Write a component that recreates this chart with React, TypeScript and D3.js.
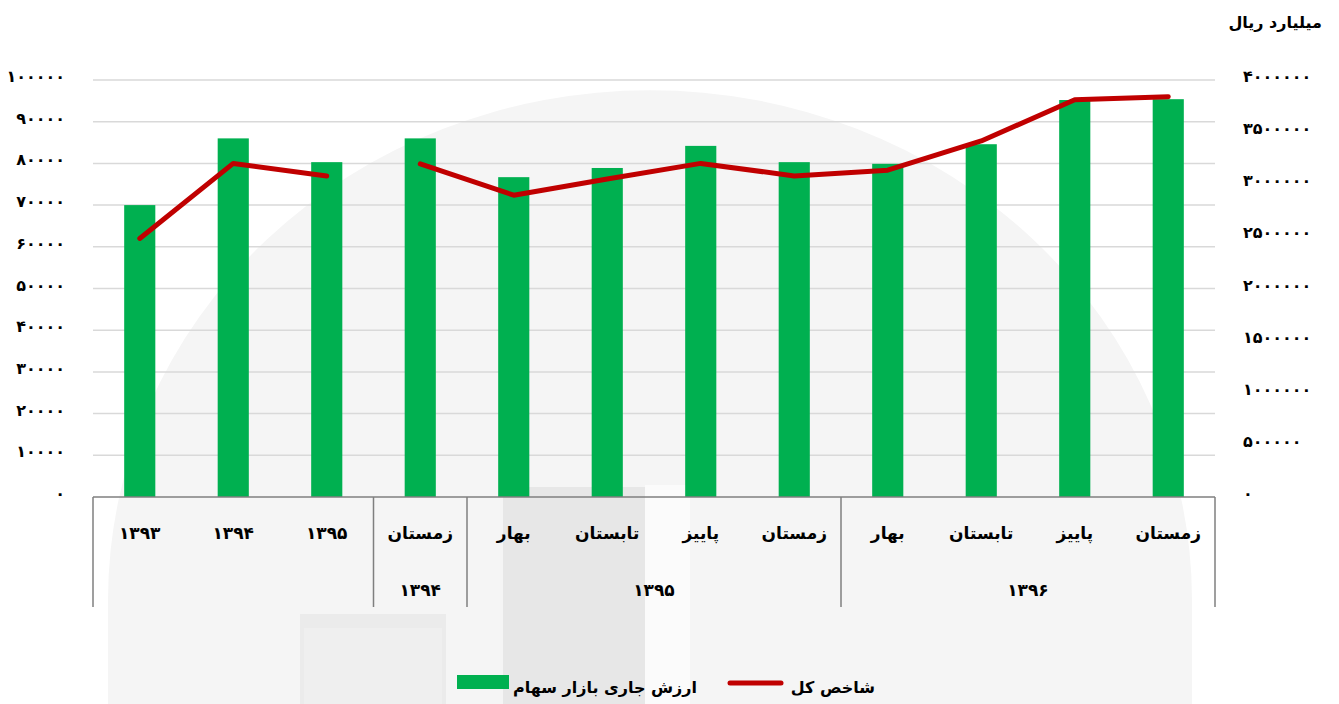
import React, { useEffect, useRef } from "react";
import * as d3 from "d3";

// categories (bottom level of the x axis)
const categories = [
  "۱۳۹۳", "۱۳۹۴", "۱۳۹۵",
  "زمستان",
  "بهار", "تابستان", "پاییز", "زمستان",
  "بهار", "تابستان", "پاییز", "زمستان",
];
// second level of the x axis: label + how many categories it covers
const groupLabels = ["", "۱۳۹۴", "۱۳۹۵", "۱۳۹۶"];
const groupSpans = [3, 1, 4, 4];
// annual points and quarterly points are drawn as separate line pieces
const periodType = ["y", "y", "y", "q", "q", "q", "q", "q", "q", "q", "q", "q"];

// ارزش جاری بازار سهام (left axis, bars)
const marketValue = [70000, 86000, 80300, 86000, 76700, 78900, 84200, 80300, 79900, 84600, 95200, 95400];
// شاخص کل (right axis, line)
const indexValue = [2480000, 3200000, 3080000, 3195000, 2895000, 3050000, 3200000, 3080000, 3135000, 3415000, 3810000, 3840000];

const leftTicks = [0, 10000, 20000, 30000, 40000, 50000, 60000, 70000, 80000, 90000, 100000];
const rightTicks = [0, 500000, 1000000, 1500000, 2000000, 2500000, 3000000, 3500000, 4000000];

const barLabel = "ارزش جاری بازار سهام";
const lineLabel = "شاخص کل";
const unitLabel = "میلیارد ریال";

const faDigits = "۰۱۲۳۴۵۶۷۸۹";
const toFa = (n: number) => String(n).replace(/\d/g, (c) => faDigits[+c]);

const W = 1339;
const H = 704;
const FONT = "'DejaVu Sans', sans-serif";

export default function App() {
  const ref = useRef<SVGSVGElement>(null);

  useEffect(() => {
    const svg = d3.select(ref.current);
    svg.selectAll("*").remove();

    const left = 93, right = 1215, top = 80, bottom = 497;

    // faint watermark in the background
    const wm = svg.append("g");
    wm.append("path")
      .attr("d", "M108,704 L108,600 A542,510 0 0 1 1192,600 L1192,704 Z")
      .attr("fill", "#f5f5f5");
    wm.append("rect").attr("x", 645).attr("y", 485).attr("width", 45).attr("height", 219).attr("fill", "#fbfbfb");
    wm.append("rect").attr("x", 503).attr("y", 487).attr("width", 142).attr("height", 217).attr("fill", "#e7e7e7");
    wm.append("rect").attr("x", 300).attr("y", 614).attr("width", 146).attr("height", 90).attr("fill", "#ebebeb");
    wm.append("rect").attr("x", 304).attr("y", 628).attr("width", 138).attr("height", 76).attr("fill", "#efefef");

    const x = d3
      .scaleBand<number>()
      .domain(d3.range(categories.length))
      .range([left, right])
      .paddingInner(0.667)
      .paddingOuter(0.3335);
    const yL = d3.scaleLinear().domain([0, 100000]).range([bottom, top]);
    const yR = d3.scaleLinear().domain([0, 4000000]).range([bottom, top]);
    const cx = (i: number) => (x(i) as number) + x.bandwidth() / 2;

    // gridlines
    svg.append("g")
      .selectAll("line")
      .data(leftTicks.slice(1))
      .join("line")
      .attr("x1", left)
      .attr("x2", right)
      .attr("y1", (d) => yL(d))
      .attr("y2", (d) => yL(d))
      .attr("stroke", "#d9d9d9")
      .attr("stroke-width", 1.5);

    // left axis labels
    svg.append("g")
      .selectAll("text")
      .data(leftTicks)
      .join("text")
      .attr("x", 65)
      .attr("y", (d) => yL(d) + 2)
      .attr("text-anchor", "end")
      .attr("font-family", FONT)
      .attr("font-weight", "bold")
      .attr("font-size", 16)
      .text((d) => toFa(d));

    // right axis labels
    svg.append("g")
      .selectAll("text")
      .data(rightTicks)
      .join("text")
      .attr("x", 1243)
      .attr("y", (d) => yR(d) + 2)
      .attr("text-anchor", "start")
      .attr("font-family", FONT)
      .attr("font-weight", "bold")
      .attr("font-size", 16)
      .text((d) => toFa(d));

    svg.append("text")
      .attr("x", 1322)
      .attr("y", 28)
      .attr("text-anchor", "end")
      .attr("font-family", FONT)
      .attr("font-weight", "bold")
      .attr("font-size", 16)
      .text(unitLabel);

    // bars
    svg.append("g")
      .attr("fill", "#00b050")
      .selectAll("rect")
      .data(marketValue)
      .join("rect")
      .attr("x", (d, i) => x(i) as number)
      .attr("y", (d) => yL(d))
      .attr("width", x.bandwidth())
      .attr("height", (d) => yL(0) - yL(d));

    // x axis + multi level category separators
    const ax = svg.append("g").attr("stroke", "#7f7f7f").attr("stroke-width", 1.5);
    ax.append("line").attr("x1", left).attr("x2", right).attr("y1", bottom).attr("y2", bottom);
    let acc = 0;
    const bounds = [0];
    groupSpans.forEach((s) => { acc += s; bounds.push(acc); });
    const step = x.step();
    bounds.forEach((b) => {
      ax.append("line")
        .attr("x1", left + b * step)
        .attr("x2", left + b * step)
        .attr("y1", bottom)
        .attr("y2", 607);
    });

    svg.append("g")
      .selectAll("text")
      .data(categories)
      .join("text")
      .attr("x", (d, i) => cx(i))
      .attr("y", 539)
      .attr("text-anchor", "middle")
      .attr("font-family", FONT)
      .attr("font-weight", "bold")
      .attr("font-size", 17)
      .text((d) => d);

    svg.append("g")
      .selectAll("text")
      .data(groupLabels)
      .join("text")
      .attr("x", (d, i) => left + ((bounds[i] + bounds[i + 1]) / 2) * step)
      .attr("y", 596)
      .attr("text-anchor", "middle")
      .attr("font-family", FONT)
      .attr("font-weight", "bold")
      .attr("font-size", 17)
      .text((d) => d);

    // line, split into annual and quarterly pieces
    const line = d3
      .line<number>()
      .x((d) => cx(d))
      .y((d) => yR(indexValue[d]));
    ["y", "q"].forEach((t) => {
      const idx = d3.range(indexValue.length).filter((i) => periodType[i] === t);
      svg.append("path")
        .attr("d", line(idx))
        .attr("fill", "none")
        .attr("stroke", "#c00000")
        .attr("stroke-width", 5)
        .attr("stroke-linecap", "round")
        .attr("stroke-linejoin", "round");
    });

    // legend
    const lg = svg.append("g").attr("font-family", FONT).attr("font-weight", "bold").attr("font-size", 16);
    lg.append("rect").attr("x", 457).attr("y", 675).attr("width", 52).attr("height", 14).attr("fill", "#00b050");
    lg.append("text").attr("x", 697).attr("y", 693).attr("text-anchor", "end").text(barLabel);
    lg.append("line").attr("x1", 730).attr("x2", 781).attr("y1", 683).attr("y2", 683)
      .attr("stroke", "#c00000").attr("stroke-width", 5).attr("stroke-linecap", "round");
    lg.append("text").attr("x", 875).attr("y", 693).attr("text-anchor", "end").text(lineLabel);
  }, []);

  return (
    <div style={{ position: "absolute", left: 0, top: 0 }}>
      <svg ref={ref} width={W} height={H} style={{ display: "block", background: "#fff" }}></svg>
    </div>
  );
}
